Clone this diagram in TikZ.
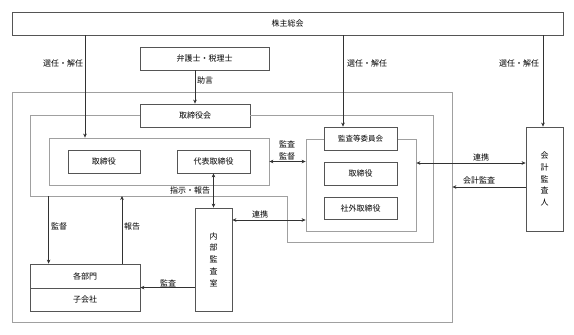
\documentclass[tikz,border=0pt]{standalone}
\usepackage{fontspec}
\setmainfont{Noto Sans CJK JP}
\usetikzlibrary{arrows.meta,positioning}
\definecolor{boxInk}{RGB}{85,85,85}
\definecolor{outGray}{RGB}{160,160,160}
\definecolor{arrowInk}{RGB}{50,50,50}

\begin{document}
\begin{tikzpicture}[x=1pt,y=-1pt,
      font=\fontsize{8}{9.5}\selectfont, >={Stealth[length=4pt,width=3.6pt]},
      bx/.style={rectangle,draw=boxInk,fill=white,line width=0.8pt,inner sep=0pt,
                 minimum height=23pt},
      vb/.style={bx,align=center,minimum width=37pt,font=\fontsize{8}{11.7}\selectfont},
      ol/.style={draw=outGray,line width=0.8pt,inner sep=0pt},
      ar/.style={->,arrowInk,line width=0.6pt},
      da/.style={<->,arrowInk,line width=0.6pt},
      lb/.style={inner sep=1pt}]
    \useasboundingbox (0,0) rectangle (574,335);

    % outlines
    \node[ol,minimum width=440pt,minimum height=230pt] (co) at (232,207) {};
    \node[bx,minimum width=110pt] (bod) at (195,115.5) {取締役会};
    \coordinate (bo) at (30,196);
    \draw[ol] (bod.west) -| (bo) -| (287,242) -| (433,115.5) -- (bod.east);
    \node[ol,minimum width=220pt,minimum height=47pt] (grp) at (159,161.5) {};
    \node[ol,minimum width=110pt,minimum height=92pt] (aco) at (361,185) {};

    % boxes
    \node[bx,minimum width=551pt] (gm) at (287.5,23.5) {株主総会};
    \node[bx,minimum width=129pt] (adv) at (204.5,58.5) {弁護士・税理士};
    \node[bx,minimum width=72pt] (dir1) at (104,161.5) {取締役};
    \node[bx,minimum width=73pt] (rep) at (213.5,161.5) {代表取締役};
    \node[bx,minimum width=73pt,font=\fontsize{7.5}{9}\selectfont] (acm) at (360.5,138.5) {監査等委員会};
    \node[bx,minimum width=73pt] (dir2) at (360.5,173.5) {取締役};
    \node[bx,minimum width=73pt,minimum height=22pt] (oud) at (360.5,208) {社外取締役};
    \node[vb,minimum height=104pt] (aud) at (544.5,179) {会\\計\\監\\査\\人};
    \node[vb,minimum height=103pt] (iad) at (213.5,259.5) {内\\部\\監\\査\\室};
    \node[bx,minimum width=110pt,minimum height=24pt] (dep) at (85,276) {各部門};
    \node[bx,minimum width=110pt] (sub) at (85,299.5) {子会社};

    % connectors
    \draw[ar] (gm.south -| 85,0) -- (grp.north -| 85,0);
    \draw[ar] (gm.south -| 343,0) -- (acm.north -| 343,0);
    \draw[ar] (gm.south -| 543,0) -- (aud.north -| 543,0);
    \draw[ar] (adv.south -| bod) -- (bod.north);
    \draw[da] (grp.east) -- (grp.east -| aco.west);
    \draw[da] (aco.east |- 0,163) -- (aud.west |- 0,163);
    \draw[ar] (aud.west |- 0,187) -- (co.east |- 0,187);
    \draw[da] (rep.south) -- (iad.north);
    \draw[da] (iad.east |- 0,220) -- (aco.west |- 0,220);
    \draw[ar] (iad.west |- sub.north) -- (sub.north east);
    \draw[ar] (bo -| grp.west) -- (dep.north -| grp.west);
    \draw[ar] (dep.north -| 122,0) -- (bo -| 122,0);

    % labels
    \node[lb] (l1) at (63,63) {選任・解任};
    \node[lb] (l2) at (367,63) {選任・解任};
    \node[lb] (l3) at (519,63) {選任・解任};
    \node[lb] (l4) at (205,80.5) {助言};
    \node[lb,align=center,font=\fontsize{8}{12.5}\selectfont] (l5) at (287,150.5) {監査\\監督};
    \node[lb] (l6) at (481,157) {連携};
    \node[lb] (l7) at (479,180) {会計監査};
    \node[lb] (l8) at (190,190.5) {指示・報告};
    \node[lb] (l9) at (260,214) {連携};
    \node[lb] (l10) at (59,226) {監督};
    \node[lb] (l11) at (132,226) {報告};
    \node[lb] (l12) at (168,283) {監査};
  \end{tikzpicture}
\end{document}
